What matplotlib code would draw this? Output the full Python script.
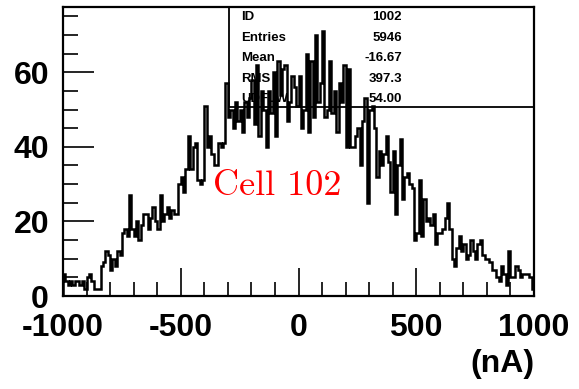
import numpy as np
import matplotlib.pyplot as plt

# bin contents, 200 bins of 10 nA from -1000 to 1000
counts = [
    6, 4, 3, 4, 3, 4, 4, 3, 4, 2,
    5, 6, 4, 2, 2, 2, 8, 9, 12, 11,
    7, 10, 8, 12, 11, 17, 18, 16, 27, 18,
    16, 20, 15, 19, 22, 22, 18, 21, 24, 20,
    18, 27, 20, 22, 24, 21, 23, 22, 22, 30,
    32, 28, 34, 43, 34, 40, 41, 31, 30, 31,
    51, 40, 43, 38, 35, 35, 41, 40, 41, 57,
    48, 50, 45, 52, 47, 50, 44, 52, 48, 53,
    58, 46, 62, 43, 55, 50, 40, 55, 49, 60,
    43, 63, 54, 61, 62, 47, 52, 59, 56, 51,
    59, 45, 50, 65, 44, 63, 48, 70, 52, 57,
    71, 48, 50, 63, 49, 55, 44, 57, 52, 62,
    40, 61, 40, 40, 43, 45, 35, 47, 53, 25,
    50, 51, 45, 32, 39, 35, 38, 43, 36, 28,
    39, 22, 35, 42, 26, 32, 33, 30, 29, 15,
    17, 31, 16, 26, 20, 21, 19, 22, 14, 17,
    17, 18, 21, 25, 18, 10, 8, 13, 16, 12,
    14, 10, 11, 15, 12, 10, 14, 15, 11, 10,
    10, 9, 7, 7, 5, 4, 8, 6, 3, 12,
    5, 5, 8, 7, 5, 6, 6, 6, 5, 2,
]
edges = np.linspace(-1000, 1000, len(counts) + 1)

stat_names = ["ID", "Entries", "Mean", "RMS", "UDFLW"]
stat_values = ["1002", "5946", "-16.67", "397.3", "54.00"]
label = "Cell 102"

plt.rcParams['axes.unicode_minus'] = False
plt.rcParams['font.family'] = ['Liberation Sans', 'DejaVu Sans']
plt.rcParams['font.weight'] = 'bold'

fig = plt.figure(figsize=(5.79, 3.89), dpi=100)
ax = fig.add_axes([63 / 579, 1 - 296 / 389, 471 / 579, 289 / 389])

ax.stairs(counts, edges, color='black', lw=1.8, zorder=3)

ax.set_xlim(-1000, 1000)
ax.set_ylim(0, 77.5)
ax.set_xticks([-1000, -500, 0, 500, 1000])
ax.set_xticks(np.arange(-1000, 1001, 100), minor=True)
ax.set_yticks([0, 20, 40, 60])
ax.set_yticks(np.arange(0, 76, 5), minor=True)
ax.tick_params(which='both', direction='in', top=False, right=False,
               labelsize=23, width=1.2)
ax.tick_params(axis='x', which='major', length=20, pad=12)
ax.tick_params(axis='x', which='minor', length=10)
ax.tick_params(axis='y', which='major', length=22, pad=10)
ax.tick_params(axis='y', which='minor', length=11)
for lab in ax.get_xticklabels() + ax.get_yticklabels():
    lab.set_fontweight('bold')
for s in ax.spines.values():
    s.set_linewidth(1.6)

ax.text(1.0, -0.185, "(nA)", transform=ax.transAxes, ha='right', va='top',
        fontsize=23, fontweight='bold')

# stats box
bx = (229 - 63) / 471
by = (296 - 107) / 289
ax.plot([bx, bx, 1.0], [1.0, by, by], transform=ax.transAxes,
        color='black', lw=1.3, zorder=4, clip_on=False)
ys = [17, 38, 58, 79, 99]
for name, val, yp in zip(stat_names, stat_values, ys):
    yy = (296 - yp) / 289
    ax.text((241 - 63) / 471, yy, name, transform=ax.transAxes,
            ha='left', va='center', fontsize=9.5, fontweight='bold', zorder=2)
    ax.text((402 - 63) / 471, yy, val, transform=ax.transAxes,
            ha='right', va='center', fontsize=9.5, fontweight='bold', zorder=2)

ax.text((213 - 63) / 471, (296 - 195) / 289, label, transform=ax.transAxes,
        ha='left', va='baseline', fontsize=26, color='red',
        family='cmr10', fontweight='normal', zorder=2)

fig.savefig("out.png", dpi=100)
